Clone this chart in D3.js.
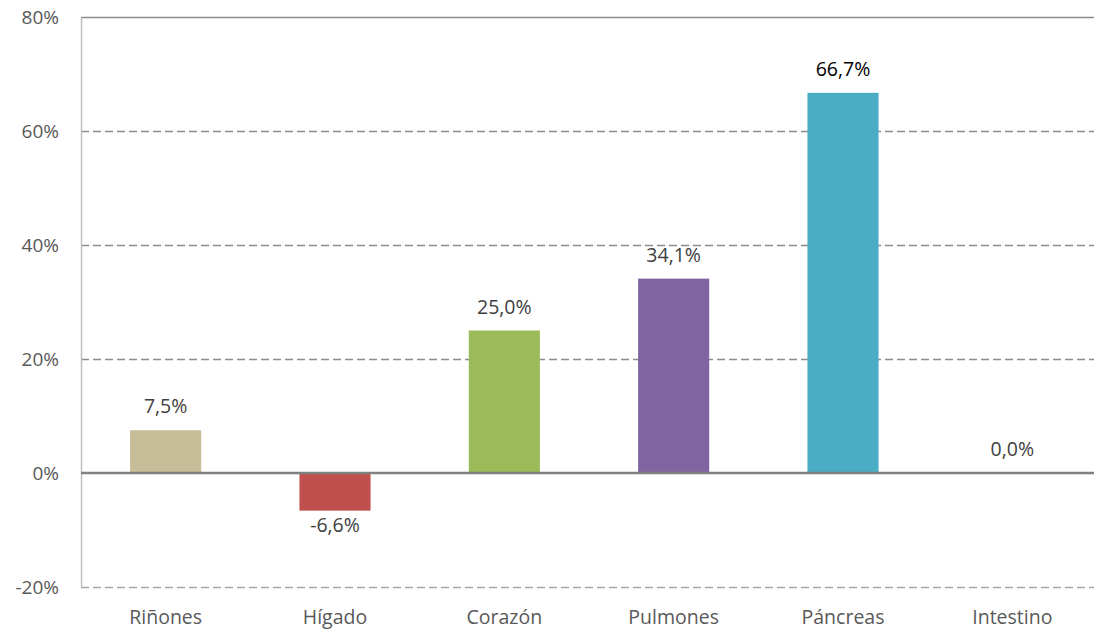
<!DOCTYPE html>
<html>
<head>
<meta charset="utf-8">
<script src="https://cdn.jsdelivr.net/npm/d3@7"></script>
<style>
  body { margin: 0; background: #fff; }
  text { font-family: "Open Sans", "Liberation Sans", sans-serif; }
</style>
</head>
<body>
<div id="chart"></div>
<script>
// data
var categories = ["Riñones", "Hígado", "Corazón", "Pulmones", "Páncreas", "Intestino"];
var values = [7.5, -6.6, 25.0, 34.1, 66.7, 0.0];
var colours = ["#c4bd97", "#c0504d", "#9bbb59", "#8064a2", "#4bacc6", "#4bacc6"];
var yTicks = [-20, 0, 20, 40, 60, 80];

var width = 1094, height = 634;

var svg = d3.select('#chart')
    .append('svg')
    .attr('width', width)
    .attr('height', height);

var x_scale = d3.scaleBand()
    .domain(categories)
    .range([81, 1097])
    .paddingInner(0.58)
    .paddingOuter(0.29);

var y_scale = d3.scaleLinear()
    .domain([-20, 80])
    .range([587, 17]);

// gridlines
svg.append('g')
    .selectAll('line')
    .data(yTicks.filter(function (t) { return t != 0; }))
    .enter()
    .append('line')
    .attr('x1', 81)
    .attr('x2', width)
    .attr('y1', function (d) { return y_scale(d) + 0.5; })
    .attr('y2', function (d) { return y_scale(d) + 0.5; })
    .attr('stroke', function (d) { return d == -20 ? '#a6a6a6' : '#8c8c8c'; })
    .attr('stroke-width', 1.5)
    .attr('stroke-dasharray', function (d) { return d == 80 ? null : '8,4'; });

// left axis
var y_axis = d3.axisLeft(y_scale)
    .tickValues(yTicks)
    .tickSize(0)
    .tickPadding(22)
    .tickFormat(function (d) { return d + '%'; });

var gy = svg.append('g')
    .attr('class', 'y axis')
    .attr('transform', 'translate(81,0)')
    .call(y_axis);
gy.select('.domain').attr('stroke', '#bfbfbf').attr('stroke-width', 1.5);
gy.selectAll('text')
    .attr('fill', '#595959')
    .style('font-size', '19px');

// bars
svg.append('g')
    .selectAll('rect')
    .data(values)
    .enter()
    .append('rect')
    .attr('x', function (d, i) { return x_scale(categories[i]); })
    .attr('width', x_scale.bandwidth())
    .attr('y', function (d) { return y_scale(Math.max(0, d)); })
    .attr('height', function (d) { return Math.abs(y_scale(d) - y_scale(0)); })
    .attr('fill', function (d, i) { return colours[i]; });

// zero line
svg.append('line')
    .attr('x1', 81)
    .attr('x2', width)
    .attr('y1', y_scale(0))
    .attr('y2', y_scale(0))
    .attr('stroke', '#808080')
    .attr('stroke-width', 2.5);

// value labels
svg.append('g')
    .selectAll('text')
    .data(values)
    .enter()
    .append('text')
    .attr('x', function (d, i) { return x_scale(categories[i]) + x_scale.bandwidth() / 2; })
    .attr('y', function (d) { return d < 0 ? y_scale(d) + 21 : y_scale(d) - 17; })
    .attr('text-anchor', 'middle')
    .attr('fill', function (d, i) { return i == 4 ? '#000' : '#404040'; })
    .style('font-size', '19.5px')
    .text(function (d) { return d.toFixed(1).replace('.', ',') + '%'; });

// category labels
var x_axis = d3.axisBottom(x_scale).tickSize(0).tickPadding(23);
var gx = svg.append('g')
    .attr('class', 'x axis')
    .attr('transform', 'translate(0,' + y_scale(-20) + ')')
    .call(x_axis);
gx.select('.domain').remove();
gx.selectAll('text')
    .attr('fill', '#595959')
    .style('font-size', '19.5px');
</script>
</body>
</html>
